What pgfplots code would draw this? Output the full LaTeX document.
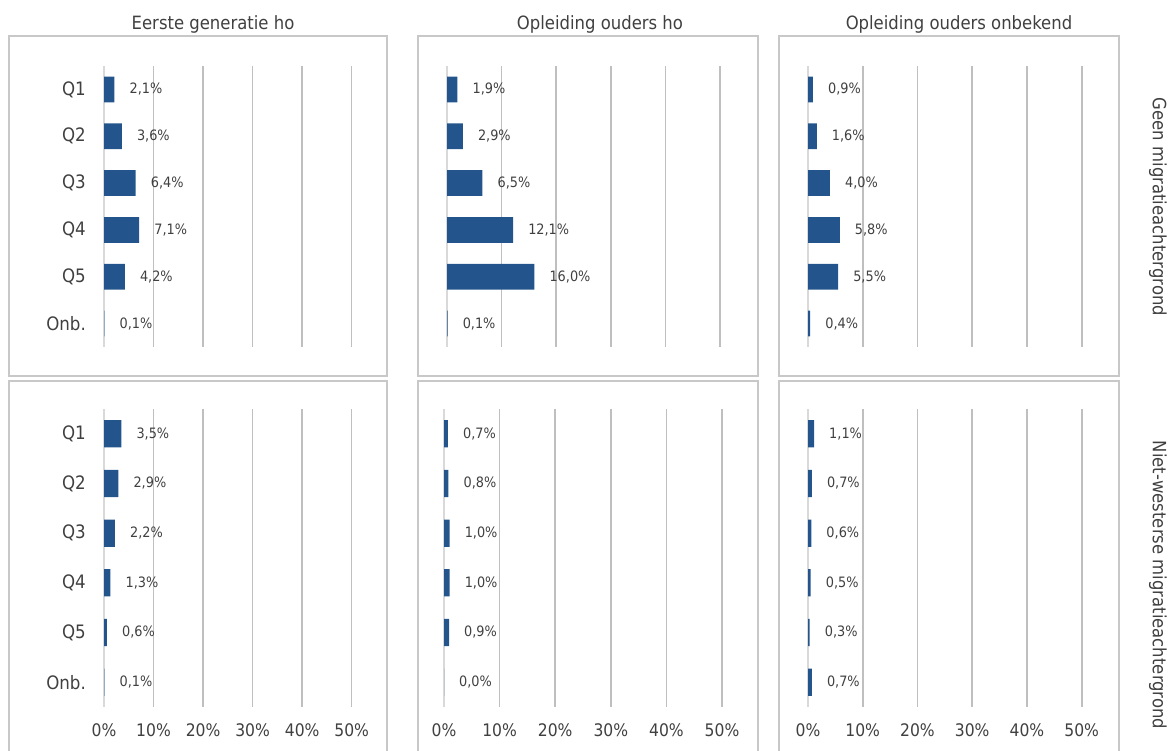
\documentclass[border=0pt]{standalone}
\usepackage{fontspec}
\setmainfont{DejaVu Sans Condensed}
\usepackage{pgfplots}
\pgfplotsset{compat=1.18}
\definecolor{barcol}{HTML}{23548C}
\definecolor{txt}{HTML}{404040}
\definecolor{gridcol}{HTML}{BFBFBF}
\definecolor{zerocol}{HTML}{D9D9D9}
\definecolor{boxcol}{HTML}{C8C8C8}
\pgfplotsset{
 panel/.style={
  anchor=north west, scale only axis, xbar, xmin=0, xmax=50, ymin=-0.5, ymax=5.5, y dir=reverse,
  axis line style={draw=none}, major tick length=0pt,
  xtick={10,20,30,40,50}, xmajorgrids, grid style={draw=gridcol, line width=1.6pt},
  extra x ticks={0}, extra x tick style={grid=major, grid style={draw=zerocol, line width=1.6pt}},
  ytick={0,...,5}, yticklabels={}, xticklabels={}, extra x tick labels={},
  bar width=0.55,
  point meta=x,
  nodes near coords={\pgfmathprintnumber[fixed,fixed zerofill,precision=1,use comma]{\pgfplotspointmeta}\%},
  nodes near coords align={horizontal},
  every node near coord/.append style={anchor=west, inner sep=0pt, xshift=15pt, font=\fontsize{14.3}{16}\selectfont, text=txt},
  /pgf/number format/assume math mode=true,
  ticklabel style={font=\fontsize{17.3}{20}\selectfont, text=txt, inner sep=0pt},
 },
 leftcol/.style={yticklabels={Q1,Q2,Q3,Q4,Q5,Onb.}, yticklabel style={anchor=east, xshift=-18pt, font=\fontsize{18.5}{20}\selectfont}},
 bottomrow/.style={xticklabel={\pgfmathprintnumber{\tick}\%}, extra x tick labels={0\%}, xticklabel style={anchor=north, yshift=-16pt}},
}
\begin{document}
\begin{tikzpicture}
\useasboundingbox (0,0) rectangle (1170pt,-751pt);
% boxes
\draw[boxcol, line width=1.5pt] (9pt,-36pt) rectangle (387pt,-376pt);
\draw[boxcol, line width=1.5pt] (418pt,-36pt) rectangle (758pt,-376pt);
\draw[boxcol, line width=1.5pt] (779pt,-36pt) rectangle (1119pt,-376pt);
\draw[boxcol, line width=1.5pt] (9pt,-752pt) -- (9pt,-381pt) -- (387pt,-381pt) -- (387pt,-752pt);
\draw[boxcol, line width=1.5pt] (418pt,-752pt) -- (418pt,-381pt) -- (758pt,-381pt) -- (758pt,-752pt);
\draw[boxcol, line width=1.5pt] (779pt,-752pt) -- (779pt,-381pt) -- (1119pt,-381pt) -- (1119pt,-752pt);
% titles
\node[anchor=base, font=\fontsize{18.3}{20}\selectfont, text=txt] at (213pt,-30pt) {Eerste generatie ho};
\node[anchor=base, font=\fontsize{18.3}{20}\selectfont, text=txt] at (600pt,-30pt) {Opleiding ouders ho};
\node[anchor=base, font=\fontsize{18.3}{20}\selectfont, text=txt] at (959pt,-30pt) {Opleiding ouders onbekend};
\node[rotate=-90, font=\fontsize{18.3}{20}\selectfont, text=txt] at (1158pt,-207pt) {Geen migratieachtergrond};
\node[rotate=-90, font=\fontsize{18.3}{20}\selectfont, text=txt] at (1158pt,-585pt) {Niet-westerse migratieachtergrond};
% top row
\begin{axis}[panel, leftcol, at={(104pt,-66pt)}, width=247.7pt, height=281pt]
\addplot[fill=barcol, draw=none] coordinates {(2.1,0) (3.6,1) (6.4,2) (7.1,3) (4.2,4) (0.1,5)};
\end{axis}
\begin{axis}[panel, at={(447pt,-66pt)}, width=273pt, height=281pt]
\addplot[fill=barcol, draw=none] coordinates {(1.9,0) (2.9,1) (6.5,2) (12.1,3) (16.0,4) (0.1,5)};
\end{axis}
\begin{axis}[panel, at={(808pt,-66pt)}, width=273.7pt, height=281pt]
\addplot[fill=barcol, draw=none] coordinates {(0.9,0) (1.6,1) (4.0,2) (5.8,3) (5.5,4) (0.4,5)};
\end{axis}
% bottom row
\begin{axis}[panel, leftcol, bottomrow, at={(104pt,-409pt)}, width=247.7pt, height=298pt]
\addplot[fill=barcol, draw=none] coordinates {(3.5,0) (2.9,1) (2.2,2) (1.3,3) (0.6,4) (0.1,5)};
\end{axis}
\begin{axis}[panel, bottomrow, at={(444pt,-409pt)}, width=278pt, height=298pt]
\addplot[fill=barcol, draw=none] coordinates {(0.7,0) (0.8,1) (1.0,2) (1.0,3) (0.9,4) (0.0,5)};
\end{axis}
\begin{axis}[panel, bottomrow, at={(808pt,-409pt)}, width=273.7pt, height=298pt]
\addplot[fill=barcol, draw=none] coordinates {(1.1,0) (0.7,1) (0.6,2) (0.5,3) (0.3,4) (0.7,5)};
\end{axis}
\end{tikzpicture}
\end{document}
